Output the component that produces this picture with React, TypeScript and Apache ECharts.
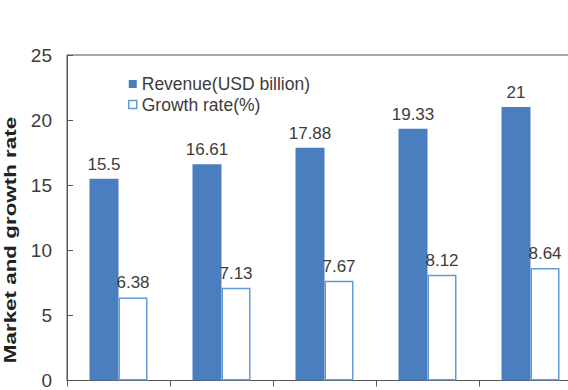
import React, { useEffect, useRef } from "react";
import * as echarts from "echarts";

// Market data by year
const categories = ["2019", "2020", "2021", "2022", "2023"];
const revenue = [15.5, 16.61, 17.88, 19.33, 21];
const growthRate = [6.38, 7.13, 7.67, 8.12, 8.64];
const yTicks = { min: 0, max: 25, interval: 5 };

const FONT = "'Liberation Sans', Arial, sans-serif";
const BLUE = "#4a7ebf";
const BLUE_LINE = "#6699d8";
const AXIS = "#555555";
const TEXT = "#3c3c3c";

export default function App() {
  const ref = useRef<HTMLDivElement>(null);

  useEffect(() => {
    if (!ref.current) return;
    const chart = echarts.init(ref.current, undefined, { renderer: "svg" });
    chart.setOption({
      animation: false,
      textStyle: { fontFamily: FONT },
      grid: {
        show: true,
        left: 67,
        top: 55,
        width: 515,
        height: 329,
        borderColor: AXIS,
        borderWidth: 1,
        backgroundColor: "transparent",
      },
      legend: {
        orient: "vertical",
        left: 123,
        top: 70,
        itemWidth: 8,
        itemHeight: 8,
        itemGap: 2.5,
        textStyle: { fontSize: 17.5, color: TEXT, fontFamily: FONT },
        data: [
          { name: "Revenue(USD billion)", icon: "rect", itemStyle: { color: BLUE, borderWidth: 0 } },
          {
            name: "Growth rate(%)",
            icon: "rect",
            itemStyle: { color: "#ffffff", borderColor: BLUE_LINE, borderWidth: 1.5 },
          },
        ],
      },
      xAxis: {
        type: "category",
        data: categories,
        axisLine: { lineStyle: { color: AXIS, width: 1 } },
        axisTick: { show: true, inside: false, length: 6, lineStyle: { color: AXIS } },
        axisLabel: { show: false },
        splitLine: { show: false },
      },
      yAxis: {
        type: "value",
        min: yTicks.min,
        max: yTicks.max,
        interval: yTicks.interval,
        axisLine: { show: true, lineStyle: { color: AXIS, width: 1 } },
        axisTick: { show: true, inside: true, length: 6, lineStyle: { color: AXIS } },
        axisLabel: { fontSize: 19, color: TEXT, margin: 15, fontFamily: FONT },
        splitLine: { show: false },
      },
      graphic: [
        {
          type: "text",
          x: 10,
          y: 240,
          rotation: Math.PI / 2,
          scaleX: 1.4,
          style: {
            text: "Market and growth rate",
            font: `bold 16px ${FONT}`,
            fill: "#222222",
            align: "center",
            verticalAlign: "middle",
          },
        },
      ],
      series: [
        {
          name: "Revenue(USD billion)",
          type: "bar",
          data: revenue,
          barWidth: 29,
          barGap: "0%",
          itemStyle: { color: BLUE },
          label: {
            show: true,
            position: "top",
            distance: 6,
            fontSize: 17,
            color: TEXT,
            fontFamily: FONT,
          },
        },
        {
          name: "Growth rate(%)",
          type: "bar",
          data: growthRate,
          barWidth: 29,
          barGap: "0%",
          itemStyle: { color: "#ffffff", borderColor: BLUE_LINE, borderWidth: 1.5 },
          label: {
            show: true,
            position: "top",
            distance: 6,
            fontSize: 17,
            color: TEXT,
            fontFamily: FONT,
          },
        },
      ],
    });
    return () => chart.dispose();
  }, []);

  // The plot area runs past the right edge of the frame, so the chart is wider than its window.
  return (
    <div
      style={{
        position: "fixed",
        left: 0,
        top: 0,
        width: 568,
        height: 390,
        overflow: "hidden",
        background: "#ffffff",
      }}
    >
      <div ref={ref} style={{ width: 600, height: 390 }} />
    </div>
  );
}
